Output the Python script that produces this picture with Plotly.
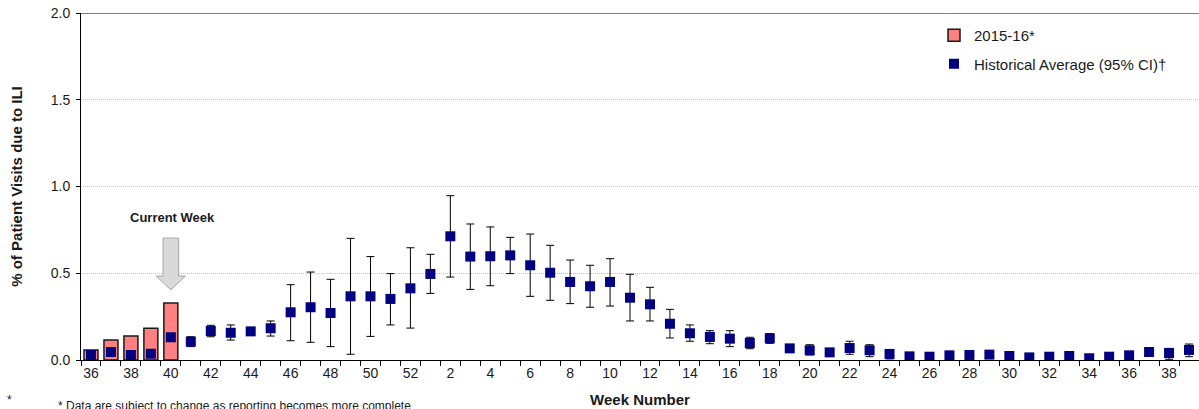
import plotly.graph_objects as go

# ---- data ----
weeks = list(range(36, 53)) + list(range(1, 40))
season_weeks = [36, 37, 38, 39, 40]
season_values = [0.058, 0.115, 0.138, 0.183, 0.328]

hist_avg = [0.029, 0.046, 0.029, 0.036, 0.131, 0.106, 0.167, 0.157, 0.165, 0.183,
            0.275, 0.304, 0.271, 0.367, 0.367, 0.352, 0.413,
            0.496, 0.713, 0.596, 0.598, 0.603, 0.546, 0.503, 0.450, 0.425, 0.450,
            0.359, 0.321, 0.209, 0.154, 0.133, 0.123, 0.098, 0.125, 0.067, 0.056,
            0.044, 0.069, 0.056, 0.035, 0.021, 0.019, 0.027, 0.029, 0.031, 0.023,
            0.015, 0.019, 0.023, 0.010, 0.019, 0.027, 0.046, 0.040, 0.058]
ci_upper = [0.035, 0.055, 0.035, 0.042, 0.150, 0.134, 0.200, 0.202, 0.180, 0.225,
            0.434, 0.507, 0.465, 0.701, 0.596, 0.498, 0.647,
            0.609, 0.947, 0.784, 0.767, 0.707, 0.726, 0.661, 0.576, 0.546, 0.584,
            0.494, 0.419, 0.292, 0.202, 0.169, 0.169, 0.131, 0.152, 0.075, 0.088,
            0.050, 0.108, 0.088, 0.060, 0.026, 0.024, 0.032, 0.034, 0.036, 0.028,
            0.020, 0.024, 0.028, 0.014, 0.024, 0.032, 0.067, 0.067, 0.092]
ci_lower = [0.023, 0.038, 0.023, 0.030, 0.115, 0.077, 0.134, 0.115, 0.148, 0.138,
            0.111, 0.102, 0.077, 0.033, 0.136, 0.202, 0.184,
            0.384, 0.478, 0.407, 0.428, 0.498, 0.367, 0.344, 0.325, 0.304, 0.311,
            0.225, 0.225, 0.127, 0.108, 0.094, 0.077, 0.065, 0.096, 0.060, 0.029,
            0.038, 0.033, 0.019, 0.006, 0.016, 0.014, 0.022, 0.024, 0.026, 0.018,
            0.010, 0.014, 0.018, 0.006, 0.014, 0.022, 0.023, 0.004, 0.019]

current_week_index = 4
tick_labels = [str(w) for w in weeks]

FONT = "Liberation Sans, Arial, sans-serif"

xpos = list(range(len(weeks)))
season_x = [weeks.index(w) for w in season_weeks]
err_plus = [u - a for u, a in zip(ci_upper, hist_avg)]
err_minus = [a - l for a, l in zip(hist_avg, ci_lower)]

fig = go.Figure()
fig.add_trace(go.Bar(
    x=season_x, y=season_values, name="2015-16*", width=0.7,
    marker=dict(color="#FF8080", line=dict(color="#1a1a1a", width=1.5)),
    legendgroup="a",
))
fig.add_trace(go.Scatter(
    x=xpos, y=hist_avg, mode="markers", name="Historical Average (95% CI)†",
    marker=dict(symbol="square", size=10, color="#000080", line=dict(width=0)),
    error_y=dict(type="data", symmetric=False, array=err_plus, arrayminus=err_minus,
                 color="black", thickness=1, width=4),
    legendgroup="b",
))

# current week arrow
cx = current_week_index
fig.add_shape(type="path",
              path=(f"M {cx-0.39},0.703 L {cx+0.39},0.703 L {cx+0.39},0.484 "
                    f"L {cx+0.73},0.484 L {cx},0.404 L {cx-0.73},0.484 L {cx-0.39},0.484 Z"),
              xref="x", yref="y", fillcolor="#d9d9d9", line=dict(color="#a6a6a6", width=1))
fig.add_annotation(x=cx, y=0.824, xref="x", yref="y", text="<b>Current Week</b>",
                   showarrow=False, xshift=2, font=dict(family=FONT, size=13, color="#1a1a1a"))

# top border line at 2.0
fig.add_shape(type="line", xref="paper", yref="y", x0=0, x1=1, y0=2, y1=2,
              line=dict(color="#808080", width=2))

# footnotes
fig.add_annotation(xref="paper", yref="paper", x=(56 - 81) / 1118, y=(360 - 397) / 347,
                   xanchor="left", yanchor="top", showarrow=False,
                   text="* Data are subject to change as reporting becomes more complete",
                   font=dict(family=FONT, size=12, color="#1a1a1a"))
fig.add_annotation(xref="paper", yref="paper", x=(5 - 81) / 1118, y=(360 - 391) / 347,
                   xanchor="left", yanchor="top", showarrow=False, text="*",
                   font=dict(family=FONT, size=12, color="#1a1a1a"))

fig.update_layout(
    width=1199, height=409,
    margin=dict(l=81, r=0, t=13, b=49),
    paper_bgcolor="white", plot_bgcolor="white",
    font=dict(family=FONT, size=13, color="#1a1a1a"),
    bargap=0.3,
    showlegend=True,
    legend=dict(x=(934 - 81) / 1118, y=(360 - 19) / 347, xanchor="left", yanchor="top",
                traceorder="grouped", tracegroupgap=6, bgcolor="rgba(0,0,0,0)",
                font=dict(family=FONT, size=15, color="#1a1a1a"), itemwidth=30),
    xaxis=dict(
        range=[-0.5, len(weeks) - 0.5],
        tickmode="array", tickvals=xpos[::2], ticktext=tick_labels[::2],
        ticks="", showgrid=False, zeroline=False,
        showline=True, linecolor="black", linewidth=1,
        tickfont=dict(family=FONT, size=14, color="#1a1a1a"),
        minor=dict(tickmode="linear", tick0=-0.5, dtick=1, ticks="outside",
                   ticklen=5, tickcolor="black", tickwidth=1, showgrid=False),
        title=dict(text="<b>Week Number</b>", font=dict(family=FONT, size=15, color="#1a1a1a"),
                   standoff=14),
    ),
    yaxis=dict(
        range=[0, 2], tickvals=[0, 0.5, 1.0, 1.5, 2.0], tickformat=".1f",
        ticks="outside", ticklen=4, tickcolor="black", ticklabelstandoff=3,
        showgrid=True, gridcolor="#c4c4c4", griddash="1px,1px", gridwidth=1,
        zeroline=False, showline=True, linecolor="black", linewidth=1,
        tickfont=dict(family=FONT, size=14, color="#1a1a1a"),
        title=dict(text="<b>% of Patient Visits due to ILI</b>",
                   font=dict(family=FONT, size=15, color="#1a1a1a"), standoff=24),
    ),
)

fig.write_html("out.html")
